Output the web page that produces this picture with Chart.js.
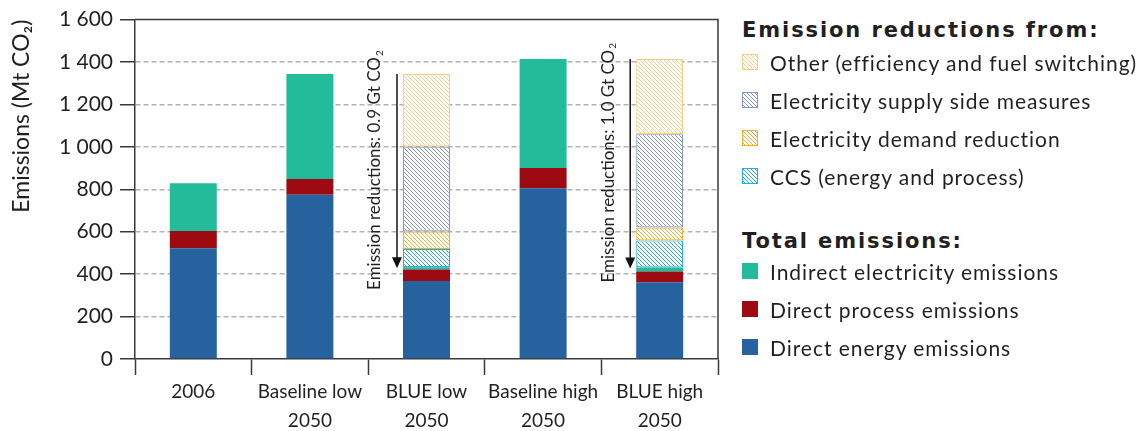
<!DOCTYPE html>
<html>
<head>
<meta charset="utf-8">
<script src="https://cdn.jsdelivr.net/npm/chart.js@4.4.1/dist/chart.umd.min.js"></script>
<style>
  html, body { margin: 0; padding: 0; background: #fff; }
  body { width: 1148px; height: 431px; position: relative; overflow: hidden; font-family: Lato, sans-serif; color: #231f20; }
  #chartBox { position: absolute; left: 0; top: 0; width: 730px; height: 431px; }
  .lg-head { position: absolute; left: 742px; font-family: 'DejaVu Sans', sans-serif; font-size: 21px; font-weight: bold; letter-spacing: 1.9px; line-height: 24px; white-space: nowrap; }
  .lg-row { position: absolute; left: 742px; height: 24px; display: flex; align-items: center; font-size: 21px; letter-spacing: 0.95px; white-space: nowrap; }
  .lg-row canvas { width: 16px; height: 16px; margin-right: 12px; }
</style>
</head>
<body>
<div id="chartBox"><canvas id="emissionsChart"></canvas></div>
<div id="legend"></div>
<script>
// Categories and stacked values (Mt CO2)
const categories = [['2006'], ['Baseline low', '2050'], ['BLUE low', '2050'], ['Baseline high', '2050'], ['BLUE high', '2050']];
const directEnergy    = [522, 774, 368, 805, 362];
const directProcess   = [81, 74, 54, 95, 50];
const indirectElec    = [226, 495, 11, 514, 19];
const ccsReduction    = [null, null, 86, null, 128];
const demandReduction = [null, null, 82, null, 61];
const supplyReduction = [null, null, 401, null, 440];
const otherReduction  = [null, null, 341, null, 354];
const yTickValues = [0, 200, 400, 600, 800, 1000, 1200, 1400, 1600];

const TEXT = '#231f20';
const AXIS = '#3a3a3a';

// diagonal hatch fill, stripes running top-left to bottom-right
function hatch(color) {
  const s = 4;
  const c = document.createElement('canvas');
  c.width = s; c.height = s;
  const g = c.getContext('2d');
  g.fillStyle = '#fff';
  g.fillRect(0, 0, s, s);
  g.strokeStyle = color;
  g.lineWidth = 1;
  g.beginPath();
  g.moveTo(-1, -1); g.lineTo(s + 1, s + 1);
  g.moveTo(-1, s - 1); g.lineTo(1, s + 1);
  g.moveTo(s - 1, -1); g.lineTo(s + 1, 1);
  g.stroke();
  return g.createPattern(c, 'repeat');
}

const solid = (label, data, color, group) => ({
  label, data, backgroundColor: color, borderWidth: 0, group, swatch: color, hatched: false
});
const hatched = (label, data, color, group) => ({
  label, data, backgroundColor: hatch(color), borderColor: color, borderWidth: 1.2,
  borderSkipped: false, group, swatch: color, hatched: true
});

const datasets = [
  solid('Direct energy emissions', directEnergy, '#25629e', 'total'),
  solid('Direct process emissions', directProcess, '#9e0a11', 'total'),
  solid('Indirect electricity emissions', indirectElec, '#23bc9b', 'total'),
  hatched('CCS (energy and process)', ccsReduction, '#1eb1e6', 'reduction'),
  hatched('Electricity demand reduction', demandReduction, '#f7ab2a', 'reduction'),
  hatched('Electricity supply side measures', supplyReduction, '#8796c9', 'reduction'),
  hatched('Other (efficiency and fuel switching)', otherReduction, '#fdcd85', 'reduction')
];

// frame on the top and right of the plot
const frame = {
  id: 'frame',
  afterDraw(chart) {
    const { ctx, chartArea: a } = chart;
    ctx.save();
    ctx.strokeStyle = AXIS;
    ctx.lineWidth = 1.5;
    ctx.beginPath();
    ctx.moveTo(a.left, a.top);
    ctx.lineTo(a.right, a.top);
    ctx.lineTo(a.right, a.bottom);
    ctx.stroke();
    ctx.restore();
  }
};

// arrow + rotated note beside each bar that has reductions
const reductionNotes = {
  id: 'reductionNotes',
  afterDatasetsDraw(chart) {
    const { ctx } = chart;
    const y = chart.scales.y;
    const topMeta = chart.getDatasetMeta(datasets.length - 1);
    categories.forEach((cat, i) => {
      const cut = [ccsReduction, demandReduction, supplyReduction, otherReduction]
        .reduce((s, arr) => s + (arr[i] || 0), 0);
      if (!cut) return;
      const remain = directEnergy[i] + directProcess[i] + indirectElec[i];
      const bar = topMeta.data[i];
      const left = bar.x - bar.width / 2;
      const ax = left - 6;
      const y0 = y.getPixelForValue(remain + cut);
      const y1 = y.getPixelForValue(remain);

      ctx.save();
      ctx.strokeStyle = '#111';
      ctx.fillStyle = '#111';
      ctx.lineWidth = 1.5;
      ctx.beginPath();
      ctx.moveTo(ax, y0);
      ctx.lineTo(ax, y1 - 8);
      ctx.stroke();
      ctx.beginPath();
      ctx.moveTo(ax - 5, y1 - 10);
      ctx.lineTo(ax + 5, y1 - 10);
      ctx.lineTo(ax, y1 + 1);
      ctx.closePath();
      ctx.fill();

      // text runs bottom-to-top
      const main = 'Emission reductions: ' + (cut / 1000).toFixed(1) + ' Gt CO';
      ctx.translate(left - 28, (y0 + y1) / 2);
      ctx.rotate(-Math.PI / 2);
      ctx.fillStyle = TEXT;
      ctx.textBaseline = 'middle';
      ctx.textAlign = 'left';
      ctx.font = '17px Lato';
      const w1 = ctx.measureText(main).width;
      ctx.font = '10px Lato';
      const w2 = ctx.measureText('2').width;
      const start = -(w1 + w2) / 2;
      ctx.font = '17px Lato';
      ctx.fillText(main, start, 0);
      ctx.font = '10px Lato';
      ctx.fillText('2', start + w1 + 1, 5);
      ctx.restore();
    });
  }
};

const chart = new Chart(document.getElementById('emissionsChart'), {
  type: 'bar',
  data: {
    labels: categories,
    datasets: datasets.map(d => ({ ...d, barPercentage: 0.403, categoryPercentage: 1 }))
  },
  options: {
    responsive: true,
    maintainAspectRatio: false,
    animation: false,
    layout: { padding: { top: 19, right: 12, left: 0, bottom: 0 } },
    plugins: {
      legend: { display: false },
      tooltip: { enabled: false }
    },
    scales: {
      x: {
        stacked: true,
        afterFit: s => { s.height = 72; },
        grid: {
          offset: true,
          drawOnChartArea: false,
          drawTicks: true,
          tickLength: 16,
          tickColor: AXIS,
          tickWidth: 1.5
        },
        border: { color: AXIS, width: 1.5 },
        ticks: {
          color: TEXT,
          font: { family: 'Lato', size: 19, lineHeight: 1.5 },
          padding: 3,
          maxRotation: 0,
          autoSkip: false
        }
      },
      y: {
        stacked: true,
        min: 0,
        max: 1600,
        afterFit: s => { s.width = 135; },
        afterBuildTicks: s => { s.ticks = yTickValues.map(v => ({ value: v })); },
        grid: {
          color: c => (c.tick && (c.tick.value === 0 || c.tick.value === 1600)) ? 'rgba(0,0,0,0)' : '#b3b3b3',
          lineWidth: 1.5,
          drawTicks: true,
          tickLength: 15,
          tickColor: AXIS,
          tickWidth: 1.5,
          tickBorderDash: []
        },
        border: { color: AXIS, width: 1.5, dash: [5, 3] },
        ticks: {
          color: TEXT,
          padding: 7,
          font: { family: 'Lato', size: 21 },
          callback: v => String(v).replace(/\B(?=(\d{3})+(?!\d))/g, ' ')
        },
        title: {
          display: true,
          text: 'Emissions (Mt CO₂)',
          align: 'end',
          color: TEXT,
          font: { family: 'Lato', size: 23 },
          padding: { top: 8, bottom: 0 }
        }
      }
    }
  },
  plugins: [frame, reductionNotes]
});

// legend in two groups, top entries first
function buildLegend() {
  const box = document.getElementById('legend');
  const groups = [
    { title: 'Emission reductions from:', key: 'reduction', headY: 30, rowY: 62 },
    { title: 'Total emissions:', key: 'total', headY: 241, rowY: 271 }
  ];
  groups.forEach(g => {
    const h = document.createElement('div');
    h.className = 'lg-head';
    h.textContent = g.title;
    h.style.top = (g.headY - 12) + 'px';
    box.appendChild(h);
    datasets.filter(d => d.group === g.key).reverse().forEach((d, i) => {
      const row = document.createElement('div');
      row.className = 'lg-row';
      row.style.top = (g.rowY + i * 38 - 12) + 'px';
      const sw = document.createElement('canvas');
      sw.width = 16; sw.height = 16;
      const c = sw.getContext('2d');
      if (d.hatched) {
        c.fillStyle = hatch(d.swatch);
        c.fillRect(0, 0, 16, 16);
        c.strokeStyle = d.swatch;
        c.lineWidth = 1;
        c.strokeRect(0.5, 0.5, 15, 15);
      } else {
        c.fillStyle = d.swatch;
        c.fillRect(0, 0, 16, 16);
      }
      row.appendChild(sw);
      const t = document.createElement('span');
      t.textContent = d.label;
      row.appendChild(t);
      box.appendChild(row);
    });
  });
}
buildLegend();
</script>
</body>
</html>
